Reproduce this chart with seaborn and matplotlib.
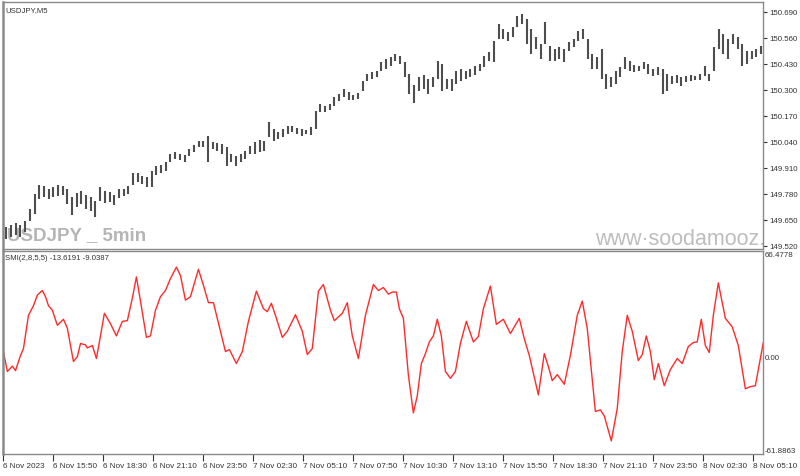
import numpy as np
import pandas as pd
import matplotlib
matplotlib.use("Agg")
import matplotlib.pyplot as plt
import matplotlib.transforms as mtransforms
import seaborn as sns

# ---------------- data ----------------
# price bars (sampled every 3 M5 bars), high / low
bar_high = [149.615, 149.625, 149.635, 149.625, 149.645, 149.705, 149.780, 149.825, 149.820, 149.805,
            149.815, 149.825, 149.820, 149.805, 149.765, 149.785, 149.795, 149.775, 149.765, 149.745,
            149.815, 149.795, 149.790, 149.775, 149.805, 149.805, 149.820, 149.885, 149.885, 149.870,
            149.865, 149.895, 149.920, 149.925, 149.940, 149.980, 149.990, 149.980, 149.975, 150.005,
            150.025, 150.045, 150.045, 150.070, 150.040, 150.035, 150.030, 150.015, 149.980, 149.970,
            149.980, 149.995, 150.020, 150.040, 150.050, 150.045, 150.140, 150.105, 150.090, 150.105,
            150.120, 150.120, 150.110, 150.105, 150.100, 150.115, 150.195, 150.230, 150.220, 150.230,
            150.265, 150.280, 150.305, 150.290, 150.275, 150.285, 150.345, 150.380, 150.390, 150.395,
            150.440, 150.455, 150.465, 150.480, 150.470, 150.440, 150.380, 150.325, 150.365, 150.375,
            150.355, 150.365, 150.445, 150.430, 150.355, 150.355, 150.395, 150.405, 150.395, 150.405,
            150.420, 150.430, 150.470, 150.490, 150.545, 150.630, 150.605, 150.590, 150.615, 150.670,
            150.680, 150.655, 150.605, 150.565, 150.530, 150.640, 150.520, 150.505, 150.515, 150.505,
            150.540, 150.555, 150.595, 150.605, 150.555, 150.480, 150.465, 150.505, 150.380, 150.365,
            150.395, 150.415, 150.465, 150.445, 150.425, 150.420, 150.440, 150.430, 150.405, 150.415,
            150.405, 150.380, 150.370, 150.375, 150.365, 150.370, 150.375, 150.370, 150.380, 150.420,
            150.380, 150.515, 150.605, 150.580, 150.555, 150.580, 150.565, 150.530, 150.495, 150.495,
            150.505, 150.520]
bar_low = [149.555, 149.565, 149.575, 149.565, 149.590, 149.645, 149.680, 149.755, 149.765, 149.755,
           149.765, 149.770, 149.775, 149.730, 149.675, 149.715, 149.730, 149.705, 149.695, 149.665,
           149.745, 149.735, 149.740, 149.725, 149.760, 149.770, 149.780, 149.825, 149.840, 149.830,
           149.815, 149.815, 149.875, 149.885, 149.895, 149.940, 149.955, 149.950, 149.940, 149.970,
           149.990, 150.015, 150.015, 149.940, 150.005, 149.995, 149.980, 149.920, 149.940, 149.920,
           149.940, 149.955, 149.980, 149.980, 149.990, 149.995, 150.065, 150.045, 150.055, 150.065,
           150.080, 150.090, 150.080, 150.070, 150.080, 150.075, 150.105, 150.190, 150.190, 150.200,
           150.220, 150.245, 150.265, 150.250, 150.250, 150.255, 150.295, 150.345, 150.355, 150.365,
           150.395, 150.405, 150.420, 150.445, 150.430, 150.365, 150.280, 150.235, 150.295, 150.305,
           150.280, 150.315, 150.355, 150.295, 150.305, 150.295, 150.330, 150.345, 150.355, 150.365,
           150.375, 150.395, 150.415, 150.445, 150.440, 150.555, 150.555, 150.545, 150.565, 150.615,
           150.630, 150.530, 150.480, 150.505, 150.455, 150.530, 150.445, 150.445, 150.455, 150.440,
           150.495, 150.515, 150.545, 150.555, 150.455, 150.405, 150.405, 150.355, 150.305, 150.315,
           150.330, 150.365, 150.405, 150.395, 150.390, 150.395, 150.405, 150.380, 150.370, 150.375,
           150.280, 150.295, 150.330, 150.335, 150.320, 150.340, 150.345, 150.350, 150.350, 150.370,
           150.345, 150.395, 150.505, 150.480, 150.455, 150.530, 150.505, 150.420, 150.430, 150.455,
           150.465, 150.480]

# SMI indicator: time (in M5 bars) and value
smi_t = [-2.6, 0.6, 3.8, 5.8, 9.0, 10.9, 14.1, 17.3, 19.8, 23.0, 25.0, 26.9, 29.4, 32.6, 36.5, 39.0,
         42.9, 45.4, 47.4, 50.6, 51.8, 55.0, 57.6, 60.2, 62.7, 66.6, 70.4, 74.2, 77.4, 80.6, 83.2, 85.8,
         89.6, 92.2, 95.4, 98.6, 101.8, 105.0, 108.8, 111.4, 114.6, 117.8, 122.9, 126.1, 129.3, 132.5,
         137.0, 140.2, 142.7, 147.2, 151.0, 154.9, 160.0, 164.5, 167.0, 169.6, 172.2, 176.6, 179.8, 185.0,
         189.4, 192.6, 195.8, 199.7, 202.9, 207.4, 209.9, 215.0, 218.2, 221.4, 225.3, 229.8, 234.9, 238.1,
         241.3, 244.5, 247.0, 249.6, 251.5, 254.1, 257.3, 260.5, 263.0, 265.6, 268.2, 270.7, 273.3, 275.8,
         278.4, 281.0, 284.2, 287.4, 290.6, 294.4, 298.9, 302.1, 305.3, 309.8, 313.6, 318.1, 322.6, 328.3,
         331.5, 334.7, 340.5, 344.3, 346.9, 349.4, 352.6, 357.1, 361.0, 365.4, 368.6, 371.8, 377.0, 380.2,
         382.7, 387.2, 391.0, 394.2, 397.4, 400.6, 404.5, 407.0, 409.6, 412.2, 414.7, 417.3, 421.1, 425.0,
         429.4, 432.6, 436.5, 439.7, 442.2, 444.8, 447.4, 449.9, 452.5, 455.7, 460.2, 464.6, 468.5, 473.0,
         476.2, 479.4, 484.5]
smi_v = [6.1, -9.7, -6.3, -9.2, 0.4, 4.8, 25.8, 31.9, 38.6, 41.5, 37.6, 31.9, 29.0, 19.5, 23.3, 17.6,
         -3.4, -0.3, 8.0, 7.1, 5.2, 6.7, -1.5, 12.8, 27.1, 20.5, 12.8, 22.0, 22.4, 36.7, 50.1, 34.8,
         11.9, 12.8, 29.0, 37.6, 41.5, 49.1, 56.3, 51.0, 35.4, 37.6, 54.9, 44.8, 33.8, 33.8,
         15.7, 2.9, 4.2, -4.7, 2.9, 22.0, 41.1, 30.0, 28.1, 33.4, 25.8, 11.9, 15.7, 26.2,
         15.7, 1.0, 4.8, 41.1, 45.3, 29.0, 22.4, 27.1, 33.8, 12.8, -1.5, 25.8, 45.3, 41.5,
         43.4, 39.2, 40.5, 40.5, 30.0, 23.9, -12.0, -35.9, -25.0, -4.7, 1.6, 9.0, 12.8, 23.3,
         12.8, -9.7, -14.0, -9.7, 8.0, 22.0, 9.0, 12.4, 30.0, 44.3, 20.1, 23.3, 14.3, 23.9,
         10.9, 0.4, -24.5, 1.6, -6.6, -15.5, -11.7, -17.8, 0.4, 25.8, 34.8, 17.6, -35.0, -34.0,
         -37.8, -53.6, -33.1, 2.9, 25.8, 15.7, -2.8, 1.0, 12.8, 2.9, -14.9, -4.7, -18.7, -8.5,
         -1.5, -4.7, 6.1, 8.6, 9.0, 23.3, 6.7, 2.3, 25.8, 46.3, 23.9, 18.5, 6.7, -20.6,
         -19.3, -18.7, 8.6]

price_ticks = [149.520, 149.650, 149.780, 149.910, 150.040, 150.170, 150.300, 150.430, 150.560, 150.690]
time_labels = ["6 Nov 2023", "6 Nov 15:50", "6 Nov 18:30", "6 Nov 21:10", "6 Nov 23:50",
               "7 Nov 02:30", "7 Nov 05:10", "7 Nov 07:50", "7 Nov 10:30", "7 Nov 13:10",
               "7 Nov 15:50", "7 Nov 18:30", "7 Nov 21:10", "7 Nov 23:50", "8 Nov 02:30",
               "8 Nov 05:10"]
time_label_start = -2.1   # M5-bar index of the first time label
smi_range = [-61.8863, 0.0, 66.4778]
smi_range_labels = ["-61.8863", "0.00", "66.4778"]

# ---------------- drawing ----------------
sns.set_style("white")
plt.rcParams["font.family"] = ["Liberation Sans", "DejaVu Sans"]

W, H = 800, 477
fig = plt.figure(figsize=(W / 100, H / 100), dpi=100)
fig.patch.set_facecolor("white")

def frac(x0, y0, x1, y1):
    return [x0 / W, 1 - y1 / H, (x1 - x0) / W, (y1 - y0) / H]

ax1 = fig.add_axes(frac(3, 3, 763, 250))
ax2 = fig.add_axes(frac(3, 252, 763, 455), sharex=ax1)

# watermarks (behind data)
ax1.text(0.005, 0.025, "USDJPY _ 5min", transform=ax1.transAxes, fontsize=13.5,
         fontweight="bold", color="#b5b5b5", ha="left", va="bottom", zorder=0)
ax1.text(0.779, 0.0, "www\u00b7soodamooz.com", transform=ax1.transAxes, fontsize=15.5,
         color="#bdbdbd", ha="left", va="bottom", clip_on=True, zorder=0)

bars = pd.DataFrame({"t": np.arange(len(bar_high)) * 3, "high": bar_high, "low": bar_low})
ax1.vlines(bars["t"], bars["low"], bars["high"], color="#4e4e4e", lw=1.5, zorder=2)

smi = pd.DataFrame({"t": smi_t, "smi": smi_v})
sns.lineplot(data=smi, x="t", y="smi", ax=ax2, color="#ff2a2a", lw=1.0, sort=False, estimator=None)

ax1.set_xlim(-2.2, 484.3)
ax1.set_ylim(149.505, 150.740)
ax2.set_ylim(smi_range[0], smi_range[2])

frame = "#8a8a8a"
for ax in (ax1, ax2):
    for s in ax.spines.values():
        s.set_color(frame)
        s.set_linewidth(1.0)
    ax.spines["left"].set_linewidth(1.8)
    ax.yaxis.tick_right()
    ax.tick_params(axis="y", which="both", direction="out", length=3, width=0.8,
                   colors="#333333", labelsize=5.7, pad=1.5, right=True, left=False)
    ax.set_xlabel("")
    ax.set_ylabel("")

ax1.set_yticks(price_ticks)
ax1.set_yticklabels([f"{v:.3f}" for v in price_ticks])
ax1.tick_params(axis="x", bottom=False, labelbottom=False)

ax2.set_yticks(smi_range)
ax2.set_yticklabels(smi_range_labels)
labs = ax2.get_yticklabels()
labs[0].set_va("bottom")
labs[2].set_va("top")
shift = mtransforms.ScaledTranslation(0, -2 / 72, fig.dpi_scale_trans)
labs[2].set_transform(labs[2].get_transform() + shift)
ax2.tick_params(axis="y", length=0)
ax2.set_yticks([0.0], minor=True)
ax2.tick_params(axis="y", which="minor", length=3, width=0.8, colors="#333333")

ax2.set_xticks(time_label_start + np.arange(len(time_labels)) * 32)
ax2.set_xticklabels(time_labels, ha="left")
ax2.tick_params(axis="x", direction="out", length=5, width=0.8, colors="#333333",
                labelsize=5.9, pad=1, bottom=True)

# titles
ax1.text(0.003, 0.985, "USDJPY,M5", transform=ax1.transAxes, fontsize=5.6, color="#333333",
         ha="left", va="top")
ax2.text(0.003, 0.985, "SMI(2,8,5,5) -13.6191 -9.0387", transform=ax2.transAxes, fontsize=5.6,
         color="#333333", ha="left", va="top")

fig.savefig("out.png", dpi=100, facecolor="white")
